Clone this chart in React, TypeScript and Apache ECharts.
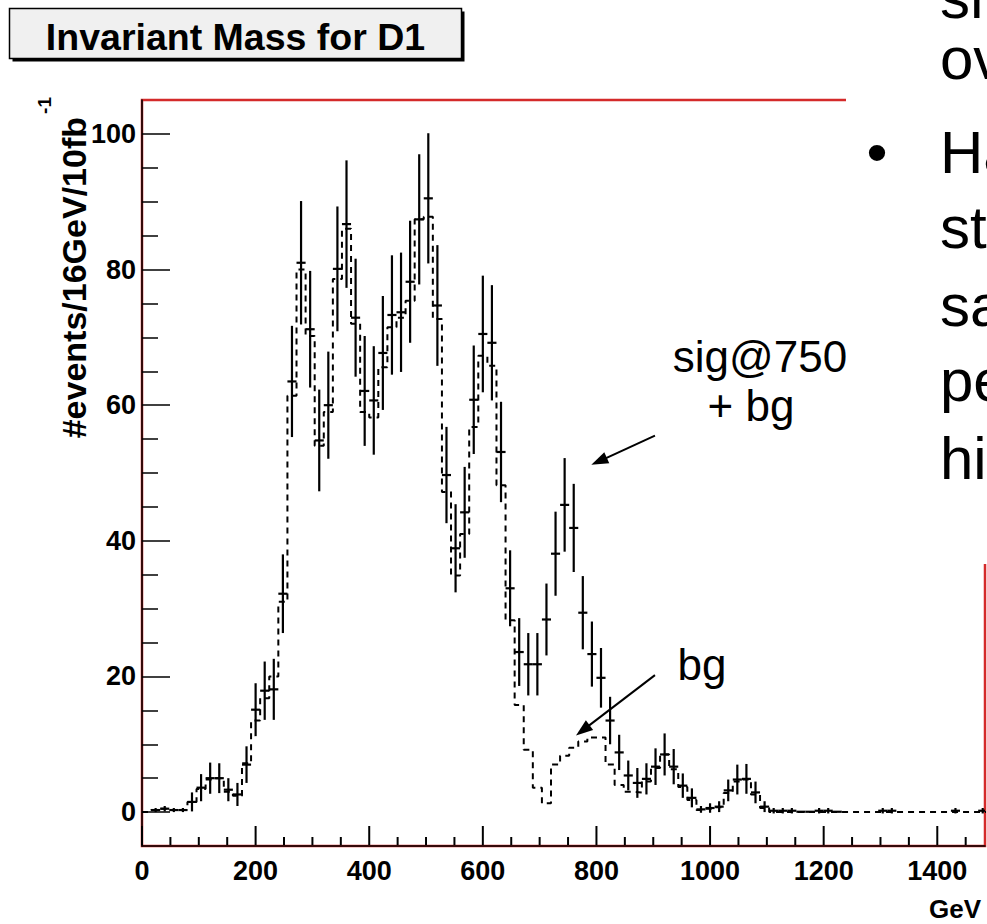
import React, { useEffect, useRef } from "react";
import * as echarts from "echarts";

const FONT = '"Liberation Sans", Arial, Helvetica, sans-serif';

// ---- axis ranges and ticks ----
const binWidthGeV = 16;
const xMin = 0;
const xMax = 1484;
const yMin = -5;
const yMax = 105;
const xMajorTicks = [0, 200, 400, 600, 800, 1000, 1200, 1400];
const xMinorTicks = [50, 100, 150, 250, 300, 350, 450, 500, 550, 650, 700, 750, 850, 900, 950, 1050, 1100, 1150, 1250, 1300, 1350, 1450];
const yMajorTicks = [0, 20, 40, 60, 80, 100];
const yMinorTicks = [5, 10, 15, 25, 30, 35, 45, 50, 55, 65, 70, 75, 85, 90, 95];

// ---- data: one entry per 16 GeV bin (bin 0 = 0-16 GeV) ----
// sig@750 + bg, drawn as error-bar crosses (null = empty bin)
const sigBg = [
  null, 0.3, 0.5, 0.3, 0.3, 1.5, 3.6, 5.0, 5.0, 3.3,
  2.6, 7.0, 15.1, 17.9, 18.1, 32.2, 63.5, 81.0, 71.2, 54.8,
  60.0, 80.1, 86.7, 72.9, 62.1, 60.7, 67.7, 73.3, 73.7, 78.2,
  87.4, 90.5, 74.7, 49.7, 38.9, 44.2, 60.8, 70.5, 69.2, 53.1,
  33.0, 23.6, 21.8, 21.8, 28.4, 38.1, 45.3, 41.9, 29.4, 23.3,
  19.8, 13.5, 8.8, 5.4, 4.3, 4.9, 6.7, 8.5, 6.7, 3.9,
  2.1, 0.4, 0.6, 0.8, 3.2, 4.8, 4.9, 2.9, 0.8, 0.2,
  0.2, 0.2, 0.05, 0.05, 0.2, 0.2, 0.05, null, null, null,
  null, 0.2, 0.2, null, null, null, null, null, null, 0.2,
  null, null, 0.2,
];
// half-length of the vertical error bars
const sigBgErr = [
  0, 0.3, 0.4, 0.3, 0.3, 1.4, 2.0, 2.3, 2.2, 1.7,
  1.7, 2.7, 3.9, 4.3, 4.5, 5.8, 8.2, 9.1, 8.6, 7.5,
  7.9, 9.2, 9.4, 8.7, 8.1, 8.0, 8.4, 8.8, 8.8, 9.0,
  9.6, 9.6, 8.9, 7.1, 6.5, 6.7, 8.0, 8.6, 8.5, 7.4,
  5.6, 5.0, 4.6, 4.6, 5.3, 6.2, 6.9, 6.5, 5.4, 4.8,
  4.4, 3.5, 2.6, 2.2, 2.2, 2.3, 2.7, 3.1, 2.6, 1.8,
  1.4, 0.5, 0.7, 0.8, 1.6, 2.2, 2.2, 1.6, 0.8, 0.4,
  0.4, 0.4, 0, 0, 0.4, 0.4, 0, 0, 0, 0,
  0, 0.4, 0.4, 0, 0, 0, 0, 0, 0, 0.4,
  0, 0, 0.4,
];
// background only, drawn as dashed histogram
const bgOnly = [
  0, 0.3, 0.5, 0.3, 0.3, 1.5, 3.4, 4.8, 5.0, 3.0,
  2.4, 7.2, 13.5, 16.8, 20.0, 31.0, 61.4, 80.0, 70.2, 54.0,
  59.0, 78.6, 86.0, 72.0, 59.0, 58.2, 65.6, 71.5, 72.9, 75.4,
  87.4, 87.8, 72.7, 47.2, 34.9, 41.0, 56.8, 67.3, 65.8, 48.2,
  28.3, 15.8, 9.2, 3.6, 1.3, 7.0, 8.3, 9.5, 10.4, 11.0,
  11.0, 7.0, 4.0, 3.0, 2.9, 4.5, 6.5, 8.5, 6.3, 3.7,
  1.8, 0.3, 0.5, 0.7, 2.8, 4.5, 4.8, 2.6, 0.6, 0,
  0, 0, 0, 0, 0, 0, 0, 0, 0, 0,
  0, 0, 0, 0, 0, 0, 0, 0, 0, 0,
  0, 0, 0,
];

// ---- texts ----
const titleText = "Invariant Mass for D1";
const yTitleMain = "#events/16GeV/10fb";
const yTitleSup = "-1";
const xTitle = "GeV";
const sigLabel1 = "sig@750";
const sigLabel2 = "+ bg";
const bgLabel = "bg";
const slideLines = ["sh", "ov", "Ha", "st", "sa", "pe", "hi"];
const slideBaselines = [18, 79, 173, 248, 326, 401, 479];
// arrow annotations in data units [GeV, events]: tail -> tip
const sigArrow = [[903, 55.5], [791, 51.2]];
const bgArrow = [[903, 20.2], [764, 11.3]];

const MAJOR_X_TICK = 20;
const MINOR_X_TICK = 9;

function buildOption() {
  const crosses: any[] = [];
  sigBg.forEach((v, i) => {
    if (v !== null) crosses.push([i * binWidthGeV + binWidthGeV / 2, v, sigBgErr[i]]);
  });
  const bgSteps: any[] = bgOnly.map((v, i) => [i * binWidthGeV, v]);
  bgSteps.push([bgOnly.length * binWidthGeV, bgOnly[bgOnly.length - 1]]);

  const labelStyle = { fontSize: 27, fontWeight: "bold", fontFamily: FONT, color: "#000" };
  const plain = (v: number) => String(v);
  const tickStyle = { color: "#000", width: 1.5 };

  return {
    animation: false,
    backgroundColor: "#ffffff",
    grid: {
      left: 142, top: 100, right: 2, bottom: 78,
      show: true, borderColor: "#d42a2a", borderWidth: 2.5,
      containLabel: false, outerBoundsMode: "none",
    },
    xAxis: [
      {
        type: "value", min: xMin, max: xMax, position: "bottom",
        axisLine: { show: true, onZero: false, lineStyle: tickStyle },
        axisTick: { show: false },
        axisLabel: { show: true, customValues: xMajorTicks, margin: 11, formatter: plain, ...labelStyle },
        splitLine: { show: false },
      },
    ],
    yAxis: [
      {
        type: "value", min: yMin, max: yMax, position: "left",
        axisLine: { show: true, onZero: false, lineStyle: tickStyle },
        axisTick: { show: true, inside: true, length: 28, customValues: yMajorTicks, lineStyle: tickStyle },
        axisLabel: { show: true, customValues: yMajorTicks, margin: 6, formatter: plain, ...labelStyle },
        splitLine: { show: false },
      },
      {
        type: "value", min: yMin, max: yMax, position: "left",
        axisLine: { show: false, onZero: false },
        axisTick: { show: true, inside: true, length: 16, customValues: yMinorTicks, lineStyle: tickStyle },
        axisLabel: { show: false },
        splitLine: { show: false },
      },
    ],
    series: [
      {
        type: "line",
        name: "bg",
        xAxisIndex: 0, yAxisIndex: 0,
        data: bgSteps,
        step: "end",
        symbol: "none",
        clip: true,
        lineStyle: { color: "#000", width: 2, type: [6, 5] },
        z: 2,
      },
      {
        type: "custom",
        name: "sig@750 + bg",
        xAxisIndex: 0, yAxisIndex: 0,
        data: crosses,
        encode: { x: 0, y: 1 },
        clip: true,
        z: 3,
        renderItem: (params: any, api: any) => {
          const x = api.value(0);
          const y = api.value(1);
          const e = api.value(2);
          const lo = api.coord([x, y - e]);
          const hi = api.coord([x, y + e]);
          const l = api.coord([x - binWidthGeV / 2, y]);
          const r = api.coord([x + binWidthGeV / 2, y]);
          const st = { stroke: "#000", lineWidth: 2.2 };
          const children: any[] = [
            { type: "line", shape: { x1: l[0], y1: l[1], x2: r[0], y2: r[1] }, style: st },
          ];
          if (e > 0) {
            children.push({ type: "line", shape: { x1: lo[0], y1: lo[1], x2: hi[0], y2: hi[1] }, style: st });
          }
          return { type: "group", children };
        },
      },
    ],
  };
}

function arrow(p0: number[], p1: number[]) {
  const dx = p1[0] - p0[0];
  const dy = p1[1] - p0[1];
  const len = Math.sqrt(dx * dx + dy * dy);
  const ux = dx / len, uy = dy / len;
  const L = 17, W = 12;
  const bx = p1[0] - ux * L, by = p1[1] - uy * L;
  const nx = -uy, ny = ux;
  return [
    { type: "line", z: 20, shape: { x1: p0[0], y1: p0[1], x2: bx + ux * 2, y2: by + uy * 2 }, style: { stroke: "#000", lineWidth: 2 } },
    {
      type: "polygon", z: 20,
      shape: { points: [[p1[0], p1[1]], [bx + nx * W / 2, by + ny * W / 2], [bx - nx * W / 2, by - ny * W / 2]] },
      style: { fill: "#000" },
    },
  ];
}

export default function App() {
  const ref = useRef<HTMLDivElement>(null);
  useEffect(() => {
    if (!ref.current) return;
    const chart = echarts.init(ref.current, null, { renderer: "svg" });
    chart.setOption(buildOption() as any);
    const toPx = (pt: number[]) => chart.convertToPixel({ xAxisIndex: 0, yAxisIndex: 0 }, pt) as number[];

    const central = (baseline: number, size: number) => baseline - 0.3465 * size;
    const graphics: any[] = [
      // title box with shadow
      { type: "rect", z: 20, shape: { x: 12.5, y: 11.5, width: 452, height: 50 }, style: { fill: "#000" } },
      { type: "rect", z: 21, shape: { x: 9.5, y: 8.5, width: 452, height: 50 }, style: { fill: "#f0f0f0", stroke: "#000", lineWidth: 1.5 } },
      {
        type: "text", z: 22, x: 235.5, y: central(50, 37.5),
        style: { text: titleText, fontSize: 37.5, fontWeight: "bold", fontFamily: FONT, fill: "#000", align: "center", verticalAlign: "middle" },
      },
      // y-axis title
      {
        type: "text", z: 22, x: 86 - 0.3465 * 34, y: 117, rotation: Math.PI / 2,
        style: { text: yTitleMain, fontSize: 34, fontWeight: "bold", fontFamily: FONT, fill: "#000", align: "right", verticalAlign: "middle" },
      },
      {
        type: "text", z: 22, x: 51 - 0.3465 * 19, y: 97, rotation: Math.PI / 2,
        style: { text: yTitleSup, fontSize: 19, fontWeight: "bold", fontFamily: FONT, fill: "#000", align: "right", verticalAlign: "middle" },
      },
      // x-axis title
      {
        type: "text", z: 22, x: 981, y: central(918, 26),
        style: { text: xTitle, fontSize: 26, fontWeight: "bold", fontFamily: FONT, fill: "#000", align: "right", verticalAlign: "middle" },
      },
      // white slide text area covering the top-right of the frame
      { type: "rect", z: 30, shape: { x: 846, y: 0, width: 141, height: 564 }, style: { fill: "#ffffff" } },
      // annotations
      {
        type: "text", z: 22, x: 760, y: central(372, 44),
        style: { text: sigLabel1, fontSize: 44, fontFamily: FONT, fill: "#000", align: "center", verticalAlign: "middle" },
      },
      {
        type: "text", z: 22, x: 751, y: central(421, 44),
        style: { text: sigLabel2, fontSize: 44, fontFamily: FONT, fill: "#000", align: "center", verticalAlign: "middle" },
      },
      {
        type: "text", z: 22, x: 702, y: central(680, 44),
        style: { text: bgLabel, fontSize: 44, fontFamily: FONT, fill: "#000", align: "center", verticalAlign: "middle" },
      },
      ...arrow(toPx(sigArrow[0]), toPx(sigArrow[1])),
      ...arrow(toPx(bgArrow[0]), toPx(bgArrow[1])),
      // bullet of the slide text
      {
        type: "text", z: 31, x: 877, y: central(173, 60),
        style: { text: "\u2022", fontSize: 60, fontFamily: FONT, fill: "#000", align: "center", verticalAlign: "middle" },
      },
    ];
    // x-axis tick marks standing on the bottom edge of the frame, placed through the axis scale
    const addTick = (v: number, len: number) => {
      const p = toPx([v, yMin]);
      graphics.push({
        type: "line", z: 25,
        shape: { x1: p[0], y1: p[1] - 1, x2: p[0], y2: p[1] - len },
        style: { stroke: "#000", lineWidth: 2 },
      });
    };
    xMajorTicks.forEach((v) => addTick(v, MAJOR_X_TICK));
    xMinorTicks.forEach((v) => addTick(v, MINOR_X_TICK));

    slideLines.forEach((t, i) => {
      graphics.push({
        type: "text", z: 31, x: 940, y: central(slideBaselines[i], 60),
        style: { text: t, fontSize: 60, fontFamily: FONT, fill: "#000", align: "left", verticalAlign: "middle" },
      });
    });
    chart.setOption({ graphic: graphics } as any);
    return () => chart.dispose();
  }, []);
  return (
    <div
      ref={ref}
      style={{ position: "absolute", left: 0, top: 0, width: 987, height: 924, background: "#fff" }}
    />
  );
}
